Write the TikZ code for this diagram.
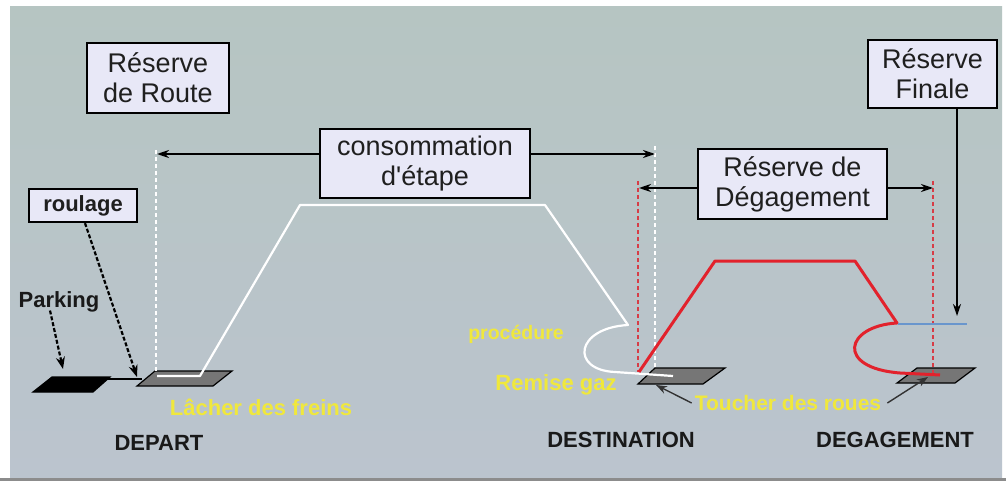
\documentclass[tikz,border=0pt]{standalone}
\usepackage{fontspec}
\setmainfont{Liberation Sans}[Ligatures=TeXOff]
\usetikzlibrary{arrows.meta}
\definecolor{paneltop}{RGB}{182,197,194}
\definecolor{panelbot}{RGB}{187,196,206}
\definecolor{boxfill}{RGB}{232,232,247}
\definecolor{labelyellow}{RGB}{240,232,60}
\definecolor{pathred}{RGB}{226,34,44}
\definecolor{dashred}{RGB}{215,60,70}
\definecolor{runwaygray}{RGB}{118,118,118}
\definecolor{holdblue}{RGB}{105,150,205}
\tikzset{
  infobox/.style={draw=black, line width=2.2pt, fill=boxfill, align=center,
    inner sep=0pt, text=black!88, font=\fontsize{27pt}{30pt}\selectfont},
  blacklabel/.style={inner sep=0pt, text=black!90, font=\bfseries\fontsize{22pt}{24pt}\selectfont},
  yellowlabel/.style={inner sep=0pt, text=labelyellow, font=\bfseries\fontsize{22pt}{24pt}\selectfont},
  span/.style={line width=1.8pt, -{Stealth[length=12pt,width=8pt]}},
  pointer/.style={line width=2.2pt, dash pattern=on 4pt off 2pt, -{Stealth[length=12pt,width=9pt]}},
  thinpointer/.style={line width=1.4pt, draw=black!80, -{Stealth[length=11pt,width=8pt]}},
  whitedash/.style={draw=white, line width=1.5pt, dash pattern=on 4pt off 3pt},
  reddash/.style={draw=dashred, line width=1.5pt, dash pattern=on 4pt off 3pt},
  runway/.style={draw=black, line width=1.2pt, fill=runwaygray},
  flightwhite/.style={draw=white, line width=2.2pt, line join=round},
  flightred/.style={draw=pathred, line width=3pt, line join=round},
}
\begin{document}
\begin{tikzpicture}[x=1pt, y=-1pt]
% page and panel
\fill[white] (0,0) rectangle (1006,481);
\useasboundingbox (0,0) rectangle (1006,481);
\shade[top color=paneltop, bottom color=panelbot] (10,7) rectangle (1002,477);
\fill[black!45] (0,478) rectangle (1006,481);

% runways
\draw[black, line width=1.2pt, fill=black] (33,392) -- (93,392) -- (110,377) -- (52,377) -- cycle;
\draw[black, line width=2pt] (108,379) -- (142,379);
\draw[runway] (137,386) -- (213,386) -- (232,371) -- (155,371) -- cycle;
\draw[runway] (638,384) -- (703,384) -- (725,368) -- (655,368) -- cycle;
\draw[runway] (897,383) -- (955,383) -- (975,368) -- (917,368) -- cycle;

% vertical limits
\draw[whitedash] (156,150) -- (156,372);
\draw[whitedash] (655,146) -- (655,369);
\draw[reddash] (638,181) -- (638,372);
\draw[reddash] (933,181) -- (933,374);

% flight profiles
\draw[flightwhite] (157,376) -- (200,376) -- (300,205) -- (545,205) -- (628,325)
  .. controls (575,328) and (570,370) .. (615,372) -- (673,376);
\draw[flightred] (639,372) -- (715,261) -- (855,261) -- (897,323)
  .. controls (845,326) and (835,368) .. (900,373) -- (940,375);
\draw[holdblue, line width=1.5pt] (898,324) -- (967,324);

% boxes
\node[infobox, minimum width=142pt, minimum height=70pt] (rroute) at (158,78) {Réserve\\de Route};
\node[infobox, minimum width=108pt, minimum height=33pt, font=\bfseries\fontsize{22pt}{24pt}\selectfont] (roulage) at (83,205.5) {roulage};
\node[infobox, minimum width=210pt, minimum height=69pt] (conso) at (425,163.5) {consommation\\d'étape};
\node[infobox, minimum width=189pt, minimum height=70pt] (rdeg) at (792.5,184) {Réserve de\\Dégagement};
\node[infobox, minimum width=129pt, minimum height=68pt] (rfin) at (932.5,74) {Réserve\\Finale};

% arrow ends
\coordinate (consoL) at (157,154);
\coordinate (consoR) at (655,154);
\coordinate (degL) at (639,188);
\coordinate (degR) at (933,188);
\coordinate (finEnd) at (957,316);
\coordinate (taxiEnd) at (137,377);
\coordinate (parkEnd) at (63,369);
\coordinate (tdDest) at (656,385);
\coordinate (tdDeg) at (928,377);

\draw[span] (conso.west |- consoL) -- (consoL);
\draw[span] (conso.east |- consoR) -- (consoR);
\draw[span] (rdeg.west |- degL) -- (degL);
\draw[span] (rdeg.east |- degR) -- (degR);
\draw[span] (rfin.south -| finEnd) -- (finEnd);

% labels
\node[blacklabel] (park) at (59,302) {Parking};
\node[blacklabel] (depart) at (159,443) {DEPART};
\node[blacklabel] (dest) at (621,440) {DESTINATION};
\node[blacklabel] (degag) at (895,440) {DEGAGEMENT};
\node[yellowlabel] (lacher) at (261,407) {Lâcher des freins};
\node[yellowlabel, font=\bfseries\fontsize{19.5pt}{22pt}\selectfont] (proc) at (516,334) {procédure};
\node[yellowlabel] (remise) at (556,385) {Remise gaz};
\node[yellowlabel, font=\bfseries\fontsize{21pt}{24pt}\selectfont] (touch) at (788,403) {Toucher des roues};

% pointers
\draw[pointer] ([xshift=2pt]roulage.south) -- (taxiEnd);
\draw[pointer] ([xshift=-9pt, yshift=2pt]park.south) -- (parkEnd);
\draw[thinpointer] ([xshift=-3pt]touch.west) -- (tdDest);
\draw[thinpointer] ([xshift=6pt]touch.east) -- (tdDeg);
\end{tikzpicture}
\end{document}
